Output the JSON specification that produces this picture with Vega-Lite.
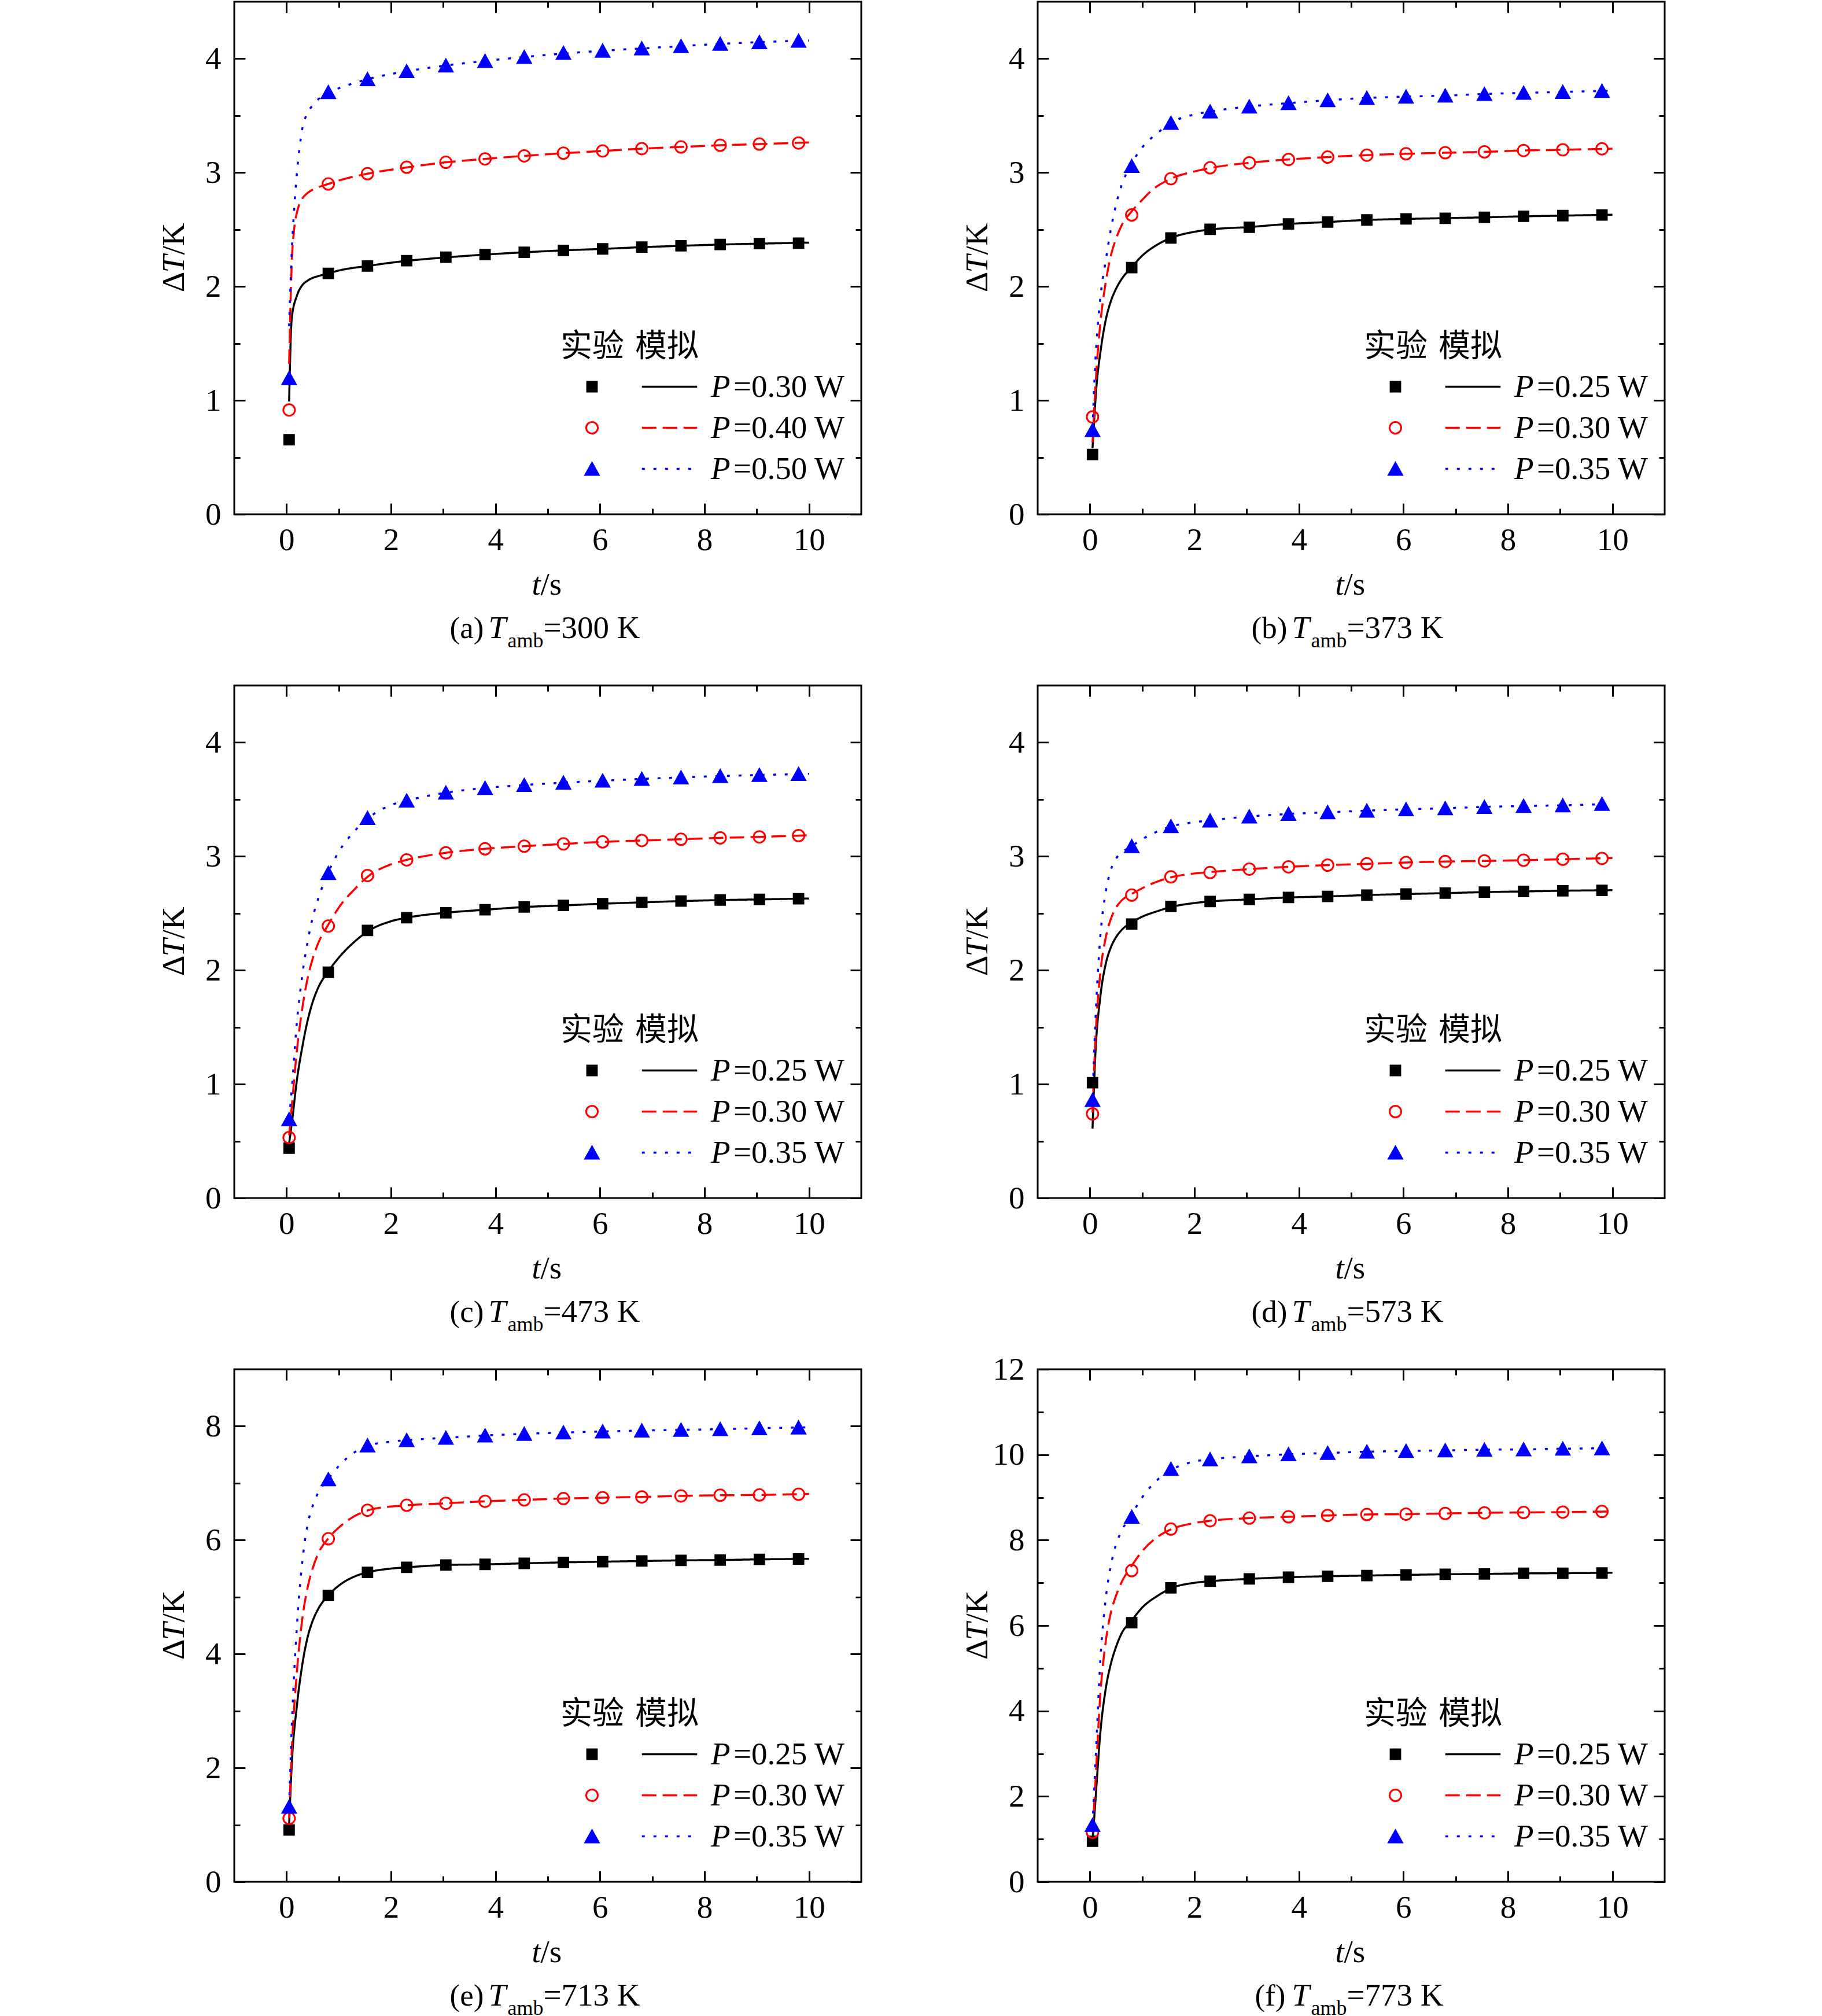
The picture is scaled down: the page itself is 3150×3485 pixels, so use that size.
{
  "$schema": "https://vega.github.io/schema/vega-lite/v6.json",
  "padding": {"left": 271, "top": 0, "right": 0, "bottom": 0},
  "background": "white",
  "config": {
    "view": {"stroke": "black", "strokeWidth": 3},
    "axis": {
      "domain": false, "grid": false, "tickColor": "black", "tickWidth": 3,
      "labelFont": "Liberation Serif", "labelFontSize": 55, "labelColor": "black",
      "labelFlush": false, "labelOverlap": false,
      "titleFont": "Liberation Serif", "titleFontSize": 55, "titleFontWeight": "normal", "titleColor": "black"
    },
    "legend": {
      "orient": "none", "direction": "vertical", "columns": 1, "padding": 0,
      "titleFont": "Noto Sans CJK SC", "titleFontSize": 55, "titleFontWeight": "normal", "titleColor": "black",
      "titleBaseline": "top", "titleAlign": "left", "titlePadding": 13,
      "labelFont": "Liberation Serif", "labelFontSize": 55, "labelColor": "black", "labelBaseline": "middle",
      "labelLimit": 500, "rowPadding": 15
    }
  },
  "datasets": {
    "a_exp": [
      {"t":0.05,"v":0.655,"exp":"0.30 W"},{"t":0.8,"v":2.115,"exp":"0.30 W"},{"t":1.55,"v":2.18,"exp":"0.30 W"},{"t":2.3,"v":2.227,"exp":"0.30 W"},{"t":3.05,"v":2.257,"exp":"0.30 W"},{"t":3.8,"v":2.28,"exp":"0.30 W"},{"t":4.55,"v":2.3,"exp":"0.30 W"},{"t":5.3,"v":2.317,"exp":"0.30 W"},{"t":6.05,"v":2.33,"exp":"0.30 W"},{"t":6.8,"v":2.346,"exp":"0.30 W"},{"t":7.55,"v":2.357,"exp":"0.30 W"},{"t":8.3,"v":2.369,"exp":"0.30 W"},{"t":9.05,"v":2.376,"exp":"0.30 W"},{"t":9.8,"v":2.38,"exp":"0.30 W"},
      {"t":0.05,"v":0.916,"exp":"0.40 W"},{"t":0.8,"v":2.9,"exp":"0.40 W"},{"t":1.55,"v":2.99,"exp":"0.40 W"},{"t":2.3,"v":3.047,"exp":"0.40 W"},{"t":3.05,"v":3.09,"exp":"0.40 W"},{"t":3.8,"v":3.12,"exp":"0.40 W"},{"t":4.55,"v":3.147,"exp":"0.40 W"},{"t":5.3,"v":3.17,"exp":"0.40 W"},{"t":6.05,"v":3.19,"exp":"0.40 W"},{"t":6.8,"v":3.21,"exp":"0.40 W"},{"t":7.55,"v":3.225,"exp":"0.40 W"},{"t":8.3,"v":3.24,"exp":"0.40 W"},{"t":9.05,"v":3.25,"exp":"0.40 W"},{"t":9.8,"v":3.26,"exp":"0.40 W"},
      {"t":0.05,"v":1.195,"exp":"0.50 W"},{"t":0.8,"v":3.706,"exp":"0.50 W"},{"t":1.55,"v":3.82,"exp":"0.50 W"},{"t":2.3,"v":3.89,"exp":"0.50 W"},{"t":3.05,"v":3.94,"exp":"0.50 W"},{"t":3.8,"v":3.98,"exp":"0.50 W"},{"t":4.55,"v":4.015,"exp":"0.50 W"},{"t":5.3,"v":4.05,"exp":"0.50 W"},{"t":6.05,"v":4.07,"exp":"0.50 W"},{"t":6.8,"v":4.09,"exp":"0.50 W"},{"t":7.55,"v":4.11,"exp":"0.50 W"},{"t":8.3,"v":4.13,"exp":"0.50 W"},{"t":9.05,"v":4.145,"exp":"0.50 W"},{"t":9.8,"v":4.157,"exp":"0.50 W"}
    ],
    "a_sim": [
      {"t":0.05,"v":0.99,"sim":"0.30 W"},{"t":0.1,"v":1.72,"sim":"0.30 W"},{"t":0.2,"v":1.92,"sim":"0.30 W"},{"t":0.3,"v":2.01,"sim":"0.30 W"},{"t":0.4,"v":2.05,"sim":"0.30 W"},{"t":0.5,"v":2.075,"sim":"0.30 W"},{"t":0.6,"v":2.09,"sim":"0.30 W"},{"t":0.8,"v":2.115,"sim":"0.30 W"},{"t":1.0,"v":2.14,"sim":"0.30 W"},{"t":1.55,"v":2.18,"sim":"0.30 W"},{"t":2.3,"v":2.225,"sim":"0.30 W"},{"t":3.05,"v":2.255,"sim":"0.30 W"},{"t":3.8,"v":2.28,"sim":"0.30 W"},{"t":4.55,"v":2.3,"sim":"0.30 W"},{"t":5.3,"v":2.317,"sim":"0.30 W"},{"t":6.05,"v":2.33,"sim":"0.30 W"},{"t":6.8,"v":2.345,"sim":"0.30 W"},{"t":7.55,"v":2.357,"sim":"0.30 W"},{"t":8.3,"v":2.368,"sim":"0.30 W"},{"t":9.05,"v":2.376,"sim":"0.30 W"},{"t":10,"v":2.385,"sim":"0.30 W"},
      {"t":0.05,"v":1.32,"sim":"0.40 W"},{"t":0.1,"v":2.2,"sim":"0.40 W"},{"t":0.15,"v":2.52,"sim":"0.40 W"},{"t":0.2,"v":2.65,"sim":"0.40 W"},{"t":0.3,"v":2.77,"sim":"0.40 W"},{"t":0.4,"v":2.82,"sim":"0.40 W"},{"t":0.5,"v":2.85,"sim":"0.40 W"},{"t":0.6,"v":2.87,"sim":"0.40 W"},{"t":0.8,"v":2.9,"sim":"0.40 W"},{"t":1.0,"v":2.93,"sim":"0.40 W"},{"t":1.55,"v":2.99,"sim":"0.40 W"},{"t":2.3,"v":3.045,"sim":"0.40 W"},{"t":3.05,"v":3.09,"sim":"0.40 W"},{"t":3.8,"v":3.12,"sim":"0.40 W"},{"t":4.55,"v":3.147,"sim":"0.40 W"},{"t":5.3,"v":3.17,"sim":"0.40 W"},{"t":6.05,"v":3.19,"sim":"0.40 W"},{"t":6.8,"v":3.21,"sim":"0.40 W"},{"t":7.55,"v":3.225,"sim":"0.40 W"},{"t":8.3,"v":3.24,"sim":"0.40 W"},{"t":9.05,"v":3.25,"sim":"0.40 W"},{"t":10,"v":3.265,"sim":"0.40 W"},
      {"t":0.05,"v":1.65,"sim":"0.50 W"},{"t":0.1,"v":2.3,"sim":"0.50 W"},{"t":0.15,"v":2.7,"sim":"0.50 W"},{"t":0.2,"v":3.0,"sim":"0.50 W"},{"t":0.25,"v":3.22,"sim":"0.50 W"},{"t":0.3,"v":3.38,"sim":"0.50 W"},{"t":0.4,"v":3.52,"sim":"0.50 W"},{"t":0.5,"v":3.59,"sim":"0.50 W"},{"t":0.6,"v":3.64,"sim":"0.50 W"},{"t":0.8,"v":3.705,"sim":"0.50 W"},{"t":1.0,"v":3.74,"sim":"0.50 W"},{"t":1.55,"v":3.82,"sim":"0.50 W"},{"t":2.3,"v":3.89,"sim":"0.50 W"},{"t":3.05,"v":3.94,"sim":"0.50 W"},{"t":3.8,"v":3.98,"sim":"0.50 W"},{"t":4.55,"v":4.015,"sim":"0.50 W"},{"t":5.3,"v":4.045,"sim":"0.50 W"},{"t":6.05,"v":4.07,"sim":"0.50 W"},{"t":6.8,"v":4.09,"sim":"0.50 W"},{"t":7.55,"v":4.11,"sim":"0.50 W"},{"t":8.3,"v":4.13,"sim":"0.50 W"},{"t":9.05,"v":4.145,"sim":"0.50 W"},{"t":10,"v":4.16,"sim":"0.50 W"}
    ],
    "b_exp": [
      {"t":0.05,"v":0.525,"exp":"0.25 W"},{"t":0.8,"v":2.166,"exp":"0.25 W"},{"t":1.55,"v":2.426,"exp":"0.25 W"},{"t":2.3,"v":2.502,"exp":"0.25 W"},{"t":3.05,"v":2.52,"exp":"0.25 W"},{"t":3.8,"v":2.549,"exp":"0.25 W"},{"t":4.55,"v":2.566,"exp":"0.25 W"},{"t":5.3,"v":2.584,"exp":"0.25 W"},{"t":6.05,"v":2.593,"exp":"0.25 W"},{"t":6.8,"v":2.599,"exp":"0.25 W"},{"t":7.55,"v":2.607,"exp":"0.25 W"},{"t":8.3,"v":2.616,"exp":"0.25 W"},{"t":9.05,"v":2.622,"exp":"0.25 W"},{"t":9.8,"v":2.628,"exp":"0.25 W"},
      {"t":0.05,"v":0.855,"exp":"0.30 W"},{"t":0.8,"v":2.628,"exp":"0.30 W"},{"t":1.55,"v":2.946,"exp":"0.30 W"},{"t":2.3,"v":3.042,"exp":"0.30 W"},{"t":3.05,"v":3.086,"exp":"0.30 W"},{"t":3.8,"v":3.115,"exp":"0.30 W"},{"t":4.55,"v":3.136,"exp":"0.30 W"},{"t":5.3,"v":3.153,"exp":"0.30 W"},{"t":6.05,"v":3.165,"exp":"0.30 W"},{"t":6.8,"v":3.174,"exp":"0.30 W"},{"t":7.55,"v":3.182,"exp":"0.30 W"},{"t":8.3,"v":3.194,"exp":"0.30 W"},{"t":9.05,"v":3.2,"exp":"0.30 W"},{"t":9.8,"v":3.209,"exp":"0.30 W"},
      {"t":0.05,"v":0.739,"exp":"0.35 W"},{"t":0.8,"v":3.057,"exp":"0.35 W"},{"t":1.55,"v":3.436,"exp":"0.35 W"},{"t":2.3,"v":3.536,"exp":"0.35 W"},{"t":3.05,"v":3.58,"exp":"0.35 W"},{"t":3.8,"v":3.61,"exp":"0.35 W"},{"t":4.55,"v":3.635,"exp":"0.35 W"},{"t":5.3,"v":3.655,"exp":"0.35 W"},{"t":6.05,"v":3.667,"exp":"0.35 W"},{"t":6.8,"v":3.676,"exp":"0.35 W"},{"t":7.55,"v":3.69,"exp":"0.35 W"},{"t":8.3,"v":3.7,"exp":"0.35 W"},{"t":9.05,"v":3.708,"exp":"0.35 W"},{"t":9.8,"v":3.717,"exp":"0.35 W"}
    ],
    "b_sim": [
      {"t":0.05,"v":0.58,"sim":"0.25 W"},{"t":0.13,"v":1.15,"sim":"0.25 W"},{"t":0.2,"v":1.42,"sim":"0.25 W"},{"t":0.3,"v":1.7,"sim":"0.25 W"},{"t":0.4,"v":1.87,"sim":"0.25 W"},{"t":0.5,"v":1.98,"sim":"0.25 W"},{"t":0.6,"v":2.06,"sim":"0.25 W"},{"t":0.8,"v":2.17,"sim":"0.25 W"},{"t":1.0,"v":2.27,"sim":"0.25 W"},{"t":1.3,"v":2.37,"sim":"0.25 W"},{"t":1.55,"v":2.426,"sim":"0.25 W"},{"t":2.0,"v":2.48,"sim":"0.25 W"},{"t":2.3,"v":2.5,"sim":"0.25 W"},{"t":3.05,"v":2.522,"sim":"0.25 W"},{"t":3.8,"v":2.549,"sim":"0.25 W"},{"t":4.55,"v":2.566,"sim":"0.25 W"},{"t":5.3,"v":2.584,"sim":"0.25 W"},{"t":6.05,"v":2.593,"sim":"0.25 W"},{"t":6.8,"v":2.6,"sim":"0.25 W"},{"t":7.55,"v":2.607,"sim":"0.25 W"},{"t":8.3,"v":2.616,"sim":"0.25 W"},{"t":9.05,"v":2.622,"sim":"0.25 W"},{"t":10,"v":2.63,"sim":"0.25 W"},
      {"t":0.05,"v":0.63,"sim":"0.30 W"},{"t":0.13,"v":1.3,"sim":"0.30 W"},{"t":0.2,"v":1.68,"sim":"0.30 W"},{"t":0.3,"v":2.03,"sim":"0.30 W"},{"t":0.4,"v":2.27,"sim":"0.30 W"},{"t":0.5,"v":2.42,"sim":"0.30 W"},{"t":0.6,"v":2.53,"sim":"0.30 W"},{"t":0.8,"v":2.66,"sim":"0.30 W"},{"t":1.0,"v":2.76,"sim":"0.30 W"},{"t":1.2,"v":2.85,"sim":"0.30 W"},{"t":1.55,"v":2.946,"sim":"0.30 W"},{"t":2.0,"v":3.01,"sim":"0.30 W"},{"t":2.3,"v":3.04,"sim":"0.30 W"},{"t":3.05,"v":3.086,"sim":"0.30 W"},{"t":3.8,"v":3.115,"sim":"0.30 W"},{"t":4.55,"v":3.136,"sim":"0.30 W"},{"t":5.3,"v":3.153,"sim":"0.30 W"},{"t":6.05,"v":3.165,"sim":"0.30 W"},{"t":6.8,"v":3.174,"sim":"0.30 W"},{"t":7.55,"v":3.182,"sim":"0.30 W"},{"t":8.3,"v":3.194,"sim":"0.30 W"},{"t":9.05,"v":3.2,"sim":"0.30 W"},{"t":10,"v":3.21,"sim":"0.30 W"},
      {"t":0.05,"v":0.75,"sim":"0.35 W"},{"t":0.1,"v":1.3,"sim":"0.35 W"},{"t":0.2,"v":1.9,"sim":"0.35 W"},{"t":0.3,"v":2.22,"sim":"0.35 W"},{"t":0.4,"v":2.5,"sim":"0.35 W"},{"t":0.5,"v":2.72,"sim":"0.35 W"},{"t":0.6,"v":2.88,"sim":"0.35 W"},{"t":0.8,"v":3.08,"sim":"0.35 W"},{"t":1.0,"v":3.22,"sim":"0.35 W"},{"t":1.3,"v":3.35,"sim":"0.35 W"},{"t":1.55,"v":3.436,"sim":"0.35 W"},{"t":2.0,"v":3.51,"sim":"0.35 W"},{"t":2.3,"v":3.536,"sim":"0.35 W"},{"t":3.05,"v":3.58,"sim":"0.35 W"},{"t":3.8,"v":3.61,"sim":"0.35 W"},{"t":4.55,"v":3.635,"sim":"0.35 W"},{"t":5.3,"v":3.655,"sim":"0.35 W"},{"t":6.05,"v":3.667,"sim":"0.35 W"},{"t":6.8,"v":3.676,"sim":"0.35 W"},{"t":7.55,"v":3.69,"sim":"0.35 W"},{"t":8.3,"v":3.7,"sim":"0.35 W"},{"t":9.05,"v":3.708,"sim":"0.35 W"},{"t":10,"v":3.72,"sim":"0.35 W"}
    ],
    "c_exp": [
      {"t":0.05,"v":0.438,"exp":"0.25 W"},{"t":0.8,"v":1.982,"exp":"0.25 W"},{"t":1.55,"v":2.35,"exp":"0.25 W"},{"t":2.3,"v":2.461,"exp":"0.25 W"},{"t":3.05,"v":2.505,"exp":"0.25 W"},{"t":3.8,"v":2.531,"exp":"0.25 W"},{"t":4.55,"v":2.555,"exp":"0.25 W"},{"t":5.3,"v":2.569,"exp":"0.25 W"},{"t":6.05,"v":2.584,"exp":"0.25 W"},{"t":6.8,"v":2.596,"exp":"0.25 W"},{"t":7.55,"v":2.607,"exp":"0.25 W"},{"t":8.3,"v":2.616,"exp":"0.25 W"},{"t":9.05,"v":2.622,"exp":"0.25 W"},{"t":9.8,"v":2.628,"exp":"0.25 W"},
      {"t":0.05,"v":0.531,"exp":"0.30 W"},{"t":0.8,"v":2.388,"exp":"0.30 W"},{"t":1.55,"v":2.832,"exp":"0.30 W"},{"t":2.3,"v":2.969,"exp":"0.30 W"},{"t":3.05,"v":3.031,"exp":"0.30 W"},{"t":3.8,"v":3.066,"exp":"0.30 W"},{"t":4.55,"v":3.089,"exp":"0.30 W"},{"t":5.3,"v":3.109,"exp":"0.30 W"},{"t":6.05,"v":3.127,"exp":"0.30 W"},{"t":6.8,"v":3.139,"exp":"0.30 W"},{"t":7.55,"v":3.15,"exp":"0.30 W"},{"t":8.3,"v":3.162,"exp":"0.30 W"},{"t":9.05,"v":3.171,"exp":"0.30 W"},{"t":9.8,"v":3.182,"exp":"0.30 W"},
      {"t":0.05,"v":0.692,"exp":"0.35 W"},{"t":0.8,"v":2.853,"exp":"0.35 W"},{"t":1.55,"v":3.337,"exp":"0.35 W"},{"t":2.3,"v":3.489,"exp":"0.35 W"},{"t":3.05,"v":3.559,"exp":"0.35 W"},{"t":3.8,"v":3.6,"exp":"0.35 W"},{"t":4.55,"v":3.626,"exp":"0.35 W"},{"t":5.3,"v":3.647,"exp":"0.35 W"},{"t":6.05,"v":3.664,"exp":"0.35 W"},{"t":6.8,"v":3.68,"exp":"0.35 W"},{"t":7.55,"v":3.693,"exp":"0.35 W"},{"t":8.3,"v":3.705,"exp":"0.35 W"},{"t":9.05,"v":3.714,"exp":"0.35 W"},{"t":9.8,"v":3.723,"exp":"0.35 W"}
    ],
    "c_sim": [
      {"t":0.05,"v":0.48,"sim":"0.25 W"},{"t":0.1,"v":0.65,"sim":"0.25 W"},{"t":0.2,"v":1.04,"sim":"0.25 W"},{"t":0.3,"v":1.32,"sim":"0.25 W"},{"t":0.4,"v":1.55,"sim":"0.25 W"},{"t":0.5,"v":1.72,"sim":"0.25 W"},{"t":0.6,"v":1.84,"sim":"0.25 W"},{"t":0.8,"v":1.99,"sim":"0.25 W"},{"t":1.0,"v":2.11,"sim":"0.25 W"},{"t":1.3,"v":2.25,"sim":"0.25 W"},{"t":1.55,"v":2.34,"sim":"0.25 W"},{"t":2.0,"v":2.43,"sim":"0.25 W"},{"t":2.3,"v":2.461,"sim":"0.25 W"},{"t":3.05,"v":2.505,"sim":"0.25 W"},{"t":3.8,"v":2.531,"sim":"0.25 W"},{"t":4.55,"v":2.555,"sim":"0.25 W"},{"t":5.3,"v":2.569,"sim":"0.25 W"},{"t":6.05,"v":2.584,"sim":"0.25 W"},{"t":6.8,"v":2.596,"sim":"0.25 W"},{"t":7.55,"v":2.607,"sim":"0.25 W"},{"t":8.3,"v":2.616,"sim":"0.25 W"},{"t":9.05,"v":2.622,"sim":"0.25 W"},{"t":10,"v":2.63,"sim":"0.25 W"},
      {"t":0.05,"v":0.55,"sim":"0.30 W"},{"t":0.1,"v":0.8,"sim":"0.30 W"},{"t":0.2,"v":1.3,"sim":"0.30 W"},{"t":0.3,"v":1.66,"sim":"0.30 W"},{"t":0.4,"v":1.92,"sim":"0.30 W"},{"t":0.5,"v":2.1,"sim":"0.30 W"},{"t":0.6,"v":2.23,"sim":"0.30 W"},{"t":0.8,"v":2.4,"sim":"0.30 W"},{"t":1.0,"v":2.55,"sim":"0.30 W"},{"t":1.3,"v":2.71,"sim":"0.30 W"},{"t":1.55,"v":2.82,"sim":"0.30 W"},{"t":2.0,"v":2.93,"sim":"0.30 W"},{"t":2.3,"v":2.969,"sim":"0.30 W"},{"t":3.05,"v":3.031,"sim":"0.30 W"},{"t":3.8,"v":3.066,"sim":"0.30 W"},{"t":4.55,"v":3.089,"sim":"0.30 W"},{"t":5.3,"v":3.109,"sim":"0.30 W"},{"t":6.05,"v":3.127,"sim":"0.30 W"},{"t":6.8,"v":3.139,"sim":"0.30 W"},{"t":7.55,"v":3.15,"sim":"0.30 W"},{"t":8.3,"v":3.162,"sim":"0.30 W"},{"t":9.05,"v":3.171,"sim":"0.30 W"},{"t":10,"v":3.185,"sim":"0.30 W"},
      {"t":0.05,"v":0.7,"sim":"0.35 W"},{"t":0.1,"v":0.95,"sim":"0.35 W"},{"t":0.2,"v":1.55,"sim":"0.35 W"},{"t":0.3,"v":1.95,"sim":"0.35 W"},{"t":0.4,"v":2.24,"sim":"0.35 W"},{"t":0.5,"v":2.46,"sim":"0.35 W"},{"t":0.6,"v":2.62,"sim":"0.35 W"},{"t":0.8,"v":2.86,"sim":"0.35 W"},{"t":1.0,"v":3.04,"sim":"0.35 W"},{"t":1.3,"v":3.22,"sim":"0.35 W"},{"t":1.55,"v":3.33,"sim":"0.35 W"},{"t":2.0,"v":3.45,"sim":"0.35 W"},{"t":2.3,"v":3.489,"sim":"0.35 W"},{"t":3.05,"v":3.559,"sim":"0.35 W"},{"t":3.8,"v":3.6,"sim":"0.35 W"},{"t":4.55,"v":3.626,"sim":"0.35 W"},{"t":5.3,"v":3.647,"sim":"0.35 W"},{"t":6.05,"v":3.664,"sim":"0.35 W"},{"t":6.8,"v":3.68,"sim":"0.35 W"},{"t":7.55,"v":3.693,"sim":"0.35 W"},{"t":8.3,"v":3.705,"sim":"0.35 W"},{"t":9.05,"v":3.714,"sim":"0.35 W"},{"t":10,"v":3.725,"sim":"0.35 W"}
    ],
    "d_exp": [
      {"t":0.05,"v":1.013,"exp":"0.25 W"},{"t":0.8,"v":2.406,"exp":"0.25 W"},{"t":1.55,"v":2.56,"exp":"0.25 W"},{"t":2.3,"v":2.604,"exp":"0.25 W"},{"t":3.05,"v":2.622,"exp":"0.25 W"},{"t":3.8,"v":2.639,"exp":"0.25 W"},{"t":4.55,"v":2.648,"exp":"0.25 W"},{"t":5.3,"v":2.66,"exp":"0.25 W"},{"t":6.05,"v":2.669,"exp":"0.25 W"},{"t":6.8,"v":2.677,"exp":"0.25 W"},{"t":7.55,"v":2.686,"exp":"0.25 W"},{"t":8.3,"v":2.692,"exp":"0.25 W"},{"t":9.05,"v":2.698,"exp":"0.25 W"},{"t":9.8,"v":2.701,"exp":"0.25 W"},
      {"t":0.05,"v":0.739,"exp":"0.30 W"},{"t":0.8,"v":2.66,"exp":"0.30 W"},{"t":1.55,"v":2.82,"exp":"0.30 W"},{"t":2.3,"v":2.858,"exp":"0.30 W"},{"t":3.05,"v":2.888,"exp":"0.30 W"},{"t":3.8,"v":2.908,"exp":"0.30 W"},{"t":4.55,"v":2.923,"exp":"0.30 W"},{"t":5.3,"v":2.934,"exp":"0.30 W"},{"t":6.05,"v":2.946,"exp":"0.30 W"},{"t":6.8,"v":2.955,"exp":"0.30 W"},{"t":7.55,"v":2.96,"exp":"0.30 W"},{"t":8.3,"v":2.966,"exp":"0.30 W"},{"t":9.05,"v":2.975,"exp":"0.30 W"},{"t":9.8,"v":2.982,"exp":"0.30 W"},
      {"t":0.05,"v":0.861,"exp":"0.35 W"},{"t":0.8,"v":3.089,"exp":"0.35 W"},{"t":1.55,"v":3.264,"exp":"0.35 W"},{"t":2.3,"v":3.314,"exp":"0.35 W"},{"t":3.05,"v":3.35,"exp":"0.35 W"},{"t":3.8,"v":3.372,"exp":"0.35 W"},{"t":4.55,"v":3.387,"exp":"0.35 W"},{"t":5.3,"v":3.401,"exp":"0.35 W"},{"t":6.05,"v":3.413,"exp":"0.35 W"},{"t":6.8,"v":3.422,"exp":"0.35 W"},{"t":7.55,"v":3.434,"exp":"0.35 W"},{"t":8.3,"v":3.442,"exp":"0.35 W"},{"t":9.05,"v":3.448,"exp":"0.35 W"},{"t":9.8,"v":3.46,"exp":"0.35 W"}
    ],
    "d_sim": [
      {"t":0.05,"v":0.61,"sim":"0.25 W"},{"t":0.1,"v":1.22,"sim":"0.25 W"},{"t":0.2,"v":1.77,"sim":"0.25 W"},{"t":0.3,"v":2.05,"sim":"0.25 W"},{"t":0.4,"v":2.2,"sim":"0.25 W"},{"t":0.5,"v":2.29,"sim":"0.25 W"},{"t":0.6,"v":2.35,"sim":"0.25 W"},{"t":0.8,"v":2.42,"sim":"0.25 W"},{"t":1.0,"v":2.47,"sim":"0.25 W"},{"t":1.3,"v":2.52,"sim":"0.25 W"},{"t":1.55,"v":2.555,"sim":"0.25 W"},{"t":2.0,"v":2.59,"sim":"0.25 W"},{"t":2.3,"v":2.604,"sim":"0.25 W"},{"t":3.05,"v":2.622,"sim":"0.25 W"},{"t":3.8,"v":2.639,"sim":"0.25 W"},{"t":4.55,"v":2.648,"sim":"0.25 W"},{"t":5.3,"v":2.66,"sim":"0.25 W"},{"t":6.05,"v":2.669,"sim":"0.25 W"},{"t":6.8,"v":2.677,"sim":"0.25 W"},{"t":7.55,"v":2.686,"sim":"0.25 W"},{"t":8.3,"v":2.692,"sim":"0.25 W"},{"t":9.05,"v":2.698,"sim":"0.25 W"},{"t":10,"v":2.703,"sim":"0.25 W"},
      {"t":0.05,"v":0.75,"sim":"0.30 W"},{"t":0.1,"v":1.35,"sim":"0.30 W"},{"t":0.2,"v":1.98,"sim":"0.30 W"},{"t":0.3,"v":2.28,"sim":"0.30 W"},{"t":0.4,"v":2.45,"sim":"0.30 W"},{"t":0.5,"v":2.55,"sim":"0.30 W"},{"t":0.6,"v":2.61,"sim":"0.30 W"},{"t":0.8,"v":2.67,"sim":"0.30 W"},{"t":1.0,"v":2.72,"sim":"0.30 W"},{"t":1.3,"v":2.78,"sim":"0.30 W"},{"t":1.55,"v":2.815,"sim":"0.30 W"},{"t":2.0,"v":2.85,"sim":"0.30 W"},{"t":2.3,"v":2.862,"sim":"0.30 W"},{"t":3.05,"v":2.888,"sim":"0.30 W"},{"t":3.8,"v":2.908,"sim":"0.30 W"},{"t":4.55,"v":2.923,"sim":"0.30 W"},{"t":5.3,"v":2.934,"sim":"0.30 W"},{"t":6.05,"v":2.946,"sim":"0.30 W"},{"t":6.8,"v":2.955,"sim":"0.30 W"},{"t":7.55,"v":2.96,"sim":"0.30 W"},{"t":8.3,"v":2.966,"sim":"0.30 W"},{"t":9.05,"v":2.975,"sim":"0.30 W"},{"t":10,"v":2.985,"sim":"0.30 W"},
      {"t":0.05,"v":0.87,"sim":"0.35 W"},{"t":0.1,"v":1.5,"sim":"0.35 W"},{"t":0.2,"v":2.3,"sim":"0.35 W"},{"t":0.3,"v":2.68,"sim":"0.35 W"},{"t":0.4,"v":2.88,"sim":"0.35 W"},{"t":0.5,"v":2.98,"sim":"0.35 W"},{"t":0.6,"v":3.03,"sim":"0.35 W"},{"t":0.8,"v":3.09,"sim":"0.35 W"},{"t":1.0,"v":3.15,"sim":"0.35 W"},{"t":1.3,"v":3.22,"sim":"0.35 W"},{"t":1.55,"v":3.262,"sim":"0.35 W"},{"t":2.0,"v":3.3,"sim":"0.35 W"},{"t":2.3,"v":3.316,"sim":"0.35 W"},{"t":3.05,"v":3.35,"sim":"0.35 W"},{"t":3.8,"v":3.372,"sim":"0.35 W"},{"t":4.55,"v":3.387,"sim":"0.35 W"},{"t":5.3,"v":3.401,"sim":"0.35 W"},{"t":6.05,"v":3.413,"sim":"0.35 W"},{"t":6.8,"v":3.422,"sim":"0.35 W"},{"t":7.55,"v":3.434,"sim":"0.35 W"},{"t":8.3,"v":3.442,"sim":"0.35 W"},{"t":9.05,"v":3.448,"sim":"0.35 W"},{"t":10,"v":3.46,"sim":"0.35 W"}
    ],
    "e_exp": [
      {"t":0.05,"v":0.91,"exp":"0.25 W"},{"t":0.8,"v":5.026,"exp":"0.25 W"},{"t":1.55,"v":5.434,"exp":"0.25 W"},{"t":2.3,"v":5.522,"exp":"0.25 W"},{"t":3.05,"v":5.563,"exp":"0.25 W"},{"t":3.8,"v":5.574,"exp":"0.25 W"},{"t":4.55,"v":5.592,"exp":"0.25 W"},{"t":5.3,"v":5.609,"exp":"0.25 W"},{"t":6.05,"v":5.621,"exp":"0.25 W"},{"t":6.8,"v":5.633,"exp":"0.25 W"},{"t":7.55,"v":5.644,"exp":"0.25 W"},{"t":8.3,"v":5.65,"exp":"0.25 W"},{"t":9.05,"v":5.662,"exp":"0.25 W"},{"t":9.8,"v":5.668,"exp":"0.25 W"},
      {"t":0.05,"v":1.114,"exp":"0.30 W"},{"t":0.8,"v":6.023,"exp":"0.30 W"},{"t":1.55,"v":6.525,"exp":"0.30 W"},{"t":2.3,"v":6.612,"exp":"0.30 W"},{"t":3.05,"v":6.647,"exp":"0.30 W"},{"t":3.8,"v":6.682,"exp":"0.30 W"},{"t":4.55,"v":6.706,"exp":"0.30 W"},{"t":5.3,"v":6.729,"exp":"0.30 W"},{"t":6.05,"v":6.746,"exp":"0.30 W"},{"t":6.8,"v":6.758,"exp":"0.30 W"},{"t":7.55,"v":6.776,"exp":"0.30 W"},{"t":8.3,"v":6.787,"exp":"0.30 W"},{"t":9.05,"v":6.793,"exp":"0.30 W"},{"t":9.8,"v":6.805,"exp":"0.30 W"},
      {"t":0.05,"v":1.318,"exp":"0.35 W"},{"t":0.8,"v":7.067,"exp":"0.35 W"},{"t":1.55,"v":7.662,"exp":"0.35 W"},{"t":2.3,"v":7.755,"exp":"0.35 W"},{"t":3.05,"v":7.796,"exp":"0.35 W"},{"t":3.8,"v":7.837,"exp":"0.35 W"},{"t":4.55,"v":7.866,"exp":"0.35 W"},{"t":5.3,"v":7.889,"exp":"0.35 W"},{"t":6.05,"v":7.907,"exp":"0.35 W"},{"t":6.8,"v":7.924,"exp":"0.35 W"},{"t":7.55,"v":7.936,"exp":"0.35 W"},{"t":8.3,"v":7.948,"exp":"0.35 W"},{"t":9.05,"v":7.965,"exp":"0.35 W"},{"t":9.8,"v":7.977,"exp":"0.35 W"}
    ],
    "e_sim": [
      {"t":0.05,"v":1.0,"sim":"0.25 W"},{"t":0.1,"v":2.05,"sim":"0.25 W"},{"t":0.2,"v":3.1,"sim":"0.25 W"},{"t":0.3,"v":3.8,"sim":"0.25 W"},{"t":0.4,"v":4.28,"sim":"0.25 W"},{"t":0.5,"v":4.58,"sim":"0.25 W"},{"t":0.6,"v":4.78,"sim":"0.25 W"},{"t":0.8,"v":5.03,"sim":"0.25 W"},{"t":1.0,"v":5.2,"sim":"0.25 W"},{"t":1.3,"v":5.36,"sim":"0.25 W"},{"t":1.55,"v":5.434,"sim":"0.25 W"},{"t":2.0,"v":5.5,"sim":"0.25 W"},{"t":2.3,"v":5.522,"sim":"0.25 W"},{"t":3.05,"v":5.563,"sim":"0.25 W"},{"t":3.8,"v":5.574,"sim":"0.25 W"},{"t":4.55,"v":5.592,"sim":"0.25 W"},{"t":5.3,"v":5.609,"sim":"0.25 W"},{"t":6.05,"v":5.621,"sim":"0.25 W"},{"t":6.8,"v":5.633,"sim":"0.25 W"},{"t":7.55,"v":5.644,"sim":"0.25 W"},{"t":8.3,"v":5.65,"sim":"0.25 W"},{"t":9.05,"v":5.662,"sim":"0.25 W"},{"t":10,"v":5.67,"sim":"0.25 W"},
      {"t":0.05,"v":1.12,"sim":"0.30 W"},{"t":0.1,"v":2.3,"sim":"0.30 W"},{"t":0.2,"v":3.7,"sim":"0.30 W"},{"t":0.3,"v":4.6,"sim":"0.30 W"},{"t":0.4,"v":5.15,"sim":"0.30 W"},{"t":0.5,"v":5.5,"sim":"0.30 W"},{"t":0.6,"v":5.75,"sim":"0.30 W"},{"t":0.8,"v":6.03,"sim":"0.30 W"},{"t":1.0,"v":6.22,"sim":"0.30 W"},{"t":1.3,"v":6.42,"sim":"0.30 W"},{"t":1.55,"v":6.52,"sim":"0.30 W"},{"t":2.0,"v":6.59,"sim":"0.30 W"},{"t":2.3,"v":6.612,"sim":"0.30 W"},{"t":3.05,"v":6.647,"sim":"0.30 W"},{"t":3.8,"v":6.682,"sim":"0.30 W"},{"t":4.55,"v":6.706,"sim":"0.30 W"},{"t":5.3,"v":6.729,"sim":"0.30 W"},{"t":6.05,"v":6.746,"sim":"0.30 W"},{"t":6.8,"v":6.758,"sim":"0.30 W"},{"t":7.55,"v":6.776,"sim":"0.30 W"},{"t":8.3,"v":6.787,"sim":"0.30 W"},{"t":9.05,"v":6.793,"sim":"0.30 W"},{"t":10,"v":6.81,"sim":"0.30 W"},
      {"t":0.05,"v":1.32,"sim":"0.35 W"},{"t":0.1,"v":2.7,"sim":"0.35 W"},{"t":0.2,"v":4.5,"sim":"0.35 W"},{"t":0.3,"v":5.6,"sim":"0.35 W"},{"t":0.4,"v":6.25,"sim":"0.35 W"},{"t":0.5,"v":6.6,"sim":"0.35 W"},{"t":0.6,"v":6.82,"sim":"0.35 W"},{"t":0.8,"v":7.07,"sim":"0.35 W"},{"t":1.0,"v":7.3,"sim":"0.35 W"},{"t":1.3,"v":7.54,"sim":"0.35 W"},{"t":1.55,"v":7.655,"sim":"0.35 W"},{"t":2.0,"v":7.73,"sim":"0.35 W"},{"t":2.3,"v":7.755,"sim":"0.35 W"},{"t":3.05,"v":7.796,"sim":"0.35 W"},{"t":3.8,"v":7.837,"sim":"0.35 W"},{"t":4.55,"v":7.866,"sim":"0.35 W"},{"t":5.3,"v":7.889,"sim":"0.35 W"},{"t":6.05,"v":7.907,"sim":"0.35 W"},{"t":6.8,"v":7.924,"sim":"0.35 W"},{"t":7.55,"v":7.936,"sim":"0.35 W"},{"t":8.3,"v":7.948,"sim":"0.35 W"},{"t":9.05,"v":7.965,"sim":"0.35 W"},{"t":10,"v":7.98,"sim":"0.35 W"}
    ],
    "f_exp": [
      {"t":0.05,"v":0.949,"exp":"0.25 W"},{"t":0.8,"v":6.065,"exp":"0.25 W"},{"t":1.55,"v":6.882,"exp":"0.25 W"},{"t":2.3,"v":7.037,"exp":"0.25 W"},{"t":3.05,"v":7.092,"exp":"0.25 W"},{"t":3.8,"v":7.131,"exp":"0.25 W"},{"t":4.55,"v":7.154,"exp":"0.25 W"},{"t":5.3,"v":7.17,"exp":"0.25 W"},{"t":6.05,"v":7.185,"exp":"0.25 W"},{"t":6.8,"v":7.2,"exp":"0.25 W"},{"t":7.55,"v":7.208,"exp":"0.25 W"},{"t":8.3,"v":7.224,"exp":"0.25 W"},{"t":9.05,"v":7.224,"exp":"0.25 W"},{"t":9.8,"v":7.232,"exp":"0.25 W"},
      {"t":0.05,"v":1.159,"exp":"0.30 W"},{"t":0.8,"v":7.286,"exp":"0.30 W"},{"t":1.55,"v":8.258,"exp":"0.30 W"},{"t":2.3,"v":8.453,"exp":"0.30 W"},{"t":3.05,"v":8.515,"exp":"0.30 W"},{"t":3.8,"v":8.546,"exp":"0.30 W"},{"t":4.55,"v":8.577,"exp":"0.30 W"},{"t":5.3,"v":8.6,"exp":"0.30 W"},{"t":6.05,"v":8.608,"exp":"0.30 W"},{"t":6.8,"v":8.624,"exp":"0.30 W"},{"t":7.55,"v":8.639,"exp":"0.30 W"},{"t":8.3,"v":8.647,"exp":"0.30 W"},{"t":9.05,"v":8.655,"exp":"0.30 W"},{"t":9.8,"v":8.67,"exp":"0.30 W"},
      {"t":0.05,"v":1.33,"exp":"0.35 W"},{"t":0.8,"v":8.546,"exp":"0.35 W"},{"t":1.55,"v":9.666,"exp":"0.35 W"},{"t":2.3,"v":9.891,"exp":"0.35 W"},{"t":3.05,"v":9.961,"exp":"0.35 W"},{"t":3.8,"v":10.008,"exp":"0.35 W"},{"t":4.55,"v":10.039,"exp":"0.35 W"},{"t":5.3,"v":10.07,"exp":"0.35 W"},{"t":6.05,"v":10.086,"exp":"0.35 W"},{"t":6.8,"v":10.101,"exp":"0.35 W"},{"t":7.55,"v":10.117,"exp":"0.35 W"},{"t":8.3,"v":10.124,"exp":"0.35 W"},{"t":9.05,"v":10.14,"exp":"0.35 W"},{"t":9.8,"v":10.148,"exp":"0.35 W"}
    ],
    "f_sim": [
      {"t":0.05,"v":0.95,"sim":"0.25 W"},{"t":0.1,"v":1.8,"sim":"0.25 W"},{"t":0.2,"v":3.5,"sim":"0.25 W"},{"t":0.3,"v":4.5,"sim":"0.25 W"},{"t":0.4,"v":5.1,"sim":"0.25 W"},{"t":0.5,"v":5.5,"sim":"0.25 W"},{"t":0.6,"v":5.8,"sim":"0.25 W"},{"t":0.8,"v":6.12,"sim":"0.25 W"},{"t":1.0,"v":6.42,"sim":"0.25 W"},{"t":1.3,"v":6.7,"sim":"0.25 W"},{"t":1.55,"v":6.87,"sim":"0.25 W"},{"t":2.0,"v":7.0,"sim":"0.25 W"},{"t":2.3,"v":7.037,"sim":"0.25 W"},{"t":3.05,"v":7.092,"sim":"0.25 W"},{"t":3.8,"v":7.131,"sim":"0.25 W"},{"t":4.55,"v":7.154,"sim":"0.25 W"},{"t":5.3,"v":7.17,"sim":"0.25 W"},{"t":6.05,"v":7.185,"sim":"0.25 W"},{"t":6.8,"v":7.2,"sim":"0.25 W"},{"t":7.55,"v":7.208,"sim":"0.25 W"},{"t":8.3,"v":7.22,"sim":"0.25 W"},{"t":9.05,"v":7.226,"sim":"0.25 W"},{"t":10,"v":7.235,"sim":"0.25 W"},
      {"t":0.05,"v":1.16,"sim":"0.30 W"},{"t":0.1,"v":2.2,"sim":"0.30 W"},{"t":0.2,"v":4.4,"sim":"0.30 W"},{"t":0.3,"v":5.6,"sim":"0.30 W"},{"t":0.4,"v":6.3,"sim":"0.30 W"},{"t":0.5,"v":6.7,"sim":"0.30 W"},{"t":0.6,"v":7.0,"sim":"0.30 W"},{"t":0.8,"v":7.4,"sim":"0.30 W"},{"t":1.0,"v":7.74,"sim":"0.30 W"},{"t":1.3,"v":8.08,"sim":"0.30 W"},{"t":1.55,"v":8.25,"sim":"0.30 W"},{"t":2.0,"v":8.4,"sim":"0.30 W"},{"t":2.3,"v":8.453,"sim":"0.30 W"},{"t":3.05,"v":8.515,"sim":"0.30 W"},{"t":3.8,"v":8.546,"sim":"0.30 W"},{"t":4.55,"v":8.577,"sim":"0.30 W"},{"t":5.3,"v":8.6,"sim":"0.30 W"},{"t":6.05,"v":8.608,"sim":"0.30 W"},{"t":6.8,"v":8.624,"sim":"0.30 W"},{"t":7.55,"v":8.639,"sim":"0.30 W"},{"t":8.3,"v":8.647,"sim":"0.30 W"},{"t":9.05,"v":8.655,"sim":"0.30 W"},{"t":10,"v":8.67,"sim":"0.30 W"},
      {"t":0.05,"v":1.33,"sim":"0.35 W"},{"t":0.1,"v":2.6,"sim":"0.35 W"},{"t":0.2,"v":5.2,"sim":"0.35 W"},{"t":0.3,"v":6.6,"sim":"0.35 W"},{"t":0.4,"v":7.4,"sim":"0.35 W"},{"t":0.5,"v":7.9,"sim":"0.35 W"},{"t":0.6,"v":8.2,"sim":"0.35 W"},{"t":0.8,"v":8.6,"sim":"0.35 W"},{"t":1.0,"v":9.0,"sim":"0.35 W"},{"t":1.3,"v":9.42,"sim":"0.35 W"},{"t":1.55,"v":9.64,"sim":"0.35 W"},{"t":2.0,"v":9.84,"sim":"0.35 W"},{"t":2.3,"v":9.891,"sim":"0.35 W"},{"t":3.05,"v":9.961,"sim":"0.35 W"},{"t":3.8,"v":10.008,"sim":"0.35 W"},{"t":4.55,"v":10.039,"sim":"0.35 W"},{"t":5.3,"v":10.07,"sim":"0.35 W"},{"t":6.05,"v":10.086,"sim":"0.35 W"},{"t":6.8,"v":10.101,"sim":"0.35 W"},{"t":7.55,"v":10.117,"sim":"0.35 W"},{"t":8.3,"v":10.124,"sim":"0.35 W"},{"t":9.05,"v":10.14,"sim":"0.35 W"},{"t":10,"v":10.15,"sim":"0.35 W"}
    ]
  },
  "columns": 2,
  "spacing": {"row": 296, "column": 305},
  "bounds": "flush",
  "resolve": {
    "scale": {"color": "independent", "strokeDash": "independent", "fill": "independent", "stroke": "independent", "shape": "independent"}
  },
  "concat": [
    {
      "width": 1084, "height": 886,
      "layer": [
        {"data": {"name": "a_sim"}, "mark": {"type": "line", "interpolate": "monotone", "strokeWidth": 3.5},
         "encoding": {
           "x": {"field": "t", "type": "quantitative", "scale": {"domain": [-1, 11], "nice": false, "zero": false},
                 "axis": {"orient": "bottom", "values": [1, 3, 5, 7, 9], "tickSize": -10, "labels": false, "title": "/s", "titleX": 529, "titleY": 138, "titleAngle": 0, "titleAlign": "left", "titleBaseline": "alphabetic"}},
           "y": {"field": "v", "type": "quantitative", "scale": {"domain": [0, 4.5], "nice": false},
                 "axis": {"orient": "left", "values": [0.5, 1.5, 2.5, 3.5], "tickSize": -10, "labels": false, "title": "T", "titleFontStyle": "italic", "titleX": -88, "titleY": 468, "titleAngle": 270, "titleAlign": "left", "titleBaseline": "alphabetic"}},
           "color": {"field": "sim", "type": "nominal", "scale": {"range": ["#000000", "#ff0000", "#0000ff"]},
                     "legend": {"legendX": 693, "legendY": 570, "title": "模拟", "symbolType": "M-4,0H4", "symbolSize": 570, "symbolStrokeWidth": 3.5, "symbolOffset": 32, "labelOffset": 83, "labelExpr": "'=' + datum.label"}},
           "strokeDash": {"field": "sim", "type": "nominal", "scale": {"range": [[1, 0], [25, 11], [5, 15]]}}
         }},
        {"data": {"name": "a_exp"}, "mark": {"type": "point", "filled": true, "strokeWidth": 3, "opacity": 1, "size": 400},
         "encoding": {
           "x": {"field": "t", "type": "quantitative", "scale": {"domain": [-1, 11], "nice": false, "zero": false},
                 "axis": {"orient": "bottom", "values": [0, 2, 4, 6, 8, 10], "tickSize": -19, "labelPadding": 80, "labelBaseline": "alphabetic", "labelAlign": "center", "title": "t", "titleFontStyle": "italic", "titleX": 514, "titleY": 138, "titleAngle": 0, "titleAlign": "left", "titleBaseline": "alphabetic"}},
           "y": {"field": "v", "type": "quantitative", "scale": {"domain": [0, 4.5], "nice": false},
                 "axis": {"orient": "left", "values": [0, 1, 2, 3, 4], "tickSize": -19, "labelPadding": 42, "labelAlign": "right", "labelBaseline": "middle", "title": "Δ", "titleX": -88, "titleY": 501.5, "titleAngle": 270, "titleAlign": "left", "titleBaseline": "alphabetic"}},
           "shape": {"field": "exp", "type": "nominal", "scale": {"range": ["M-0.84,-0.84H0.84V0.84H-0.84Z", "circle", "M0,-1.05L1.16,1.05H-1.16Z"]},
                     "legend": {"legendX": 564, "legendY": 570, "title": "实验", "symbolSize": 400, "symbolStrokeWidth": 3, "symbolOffset": 27, "labelOffset": 178, "labelFontStyle": "italic", "labelExpr": "'P'"}},
           "fill": {"field": "exp", "type": "nominal", "scale": {"range": ["#000000", "transparent", "#0000ff"]}},
           "stroke": {"field": "exp", "type": "nominal", "scale": {"range": ["#000000", "#ff0000", "#0000ff"]}}
         }},
        {"data": {"values": []}, "mark": "point",
         "encoding": {
           "x": {"field": "t", "type": "quantitative", "scale": {"domain": [-1, 11], "nice": false, "zero": false},
                 "axis": {"orient": "top", "values": [0, 2, 4, 6, 8, 10], "tickSize": -19, "labels": false, "title": "(a)", "titleFontSize": 53, "titleX": 372, "titleY": 1099, "titleAngle": 0, "titleAlign": "left", "titleBaseline": "alphabetic"}},
           "y": {"field": "v", "type": "quantitative", "scale": {"domain": [0, 4.5], "nice": false},
                 "axis": {"orient": "right", "values": [0, 1, 2, 3, 4], "tickSize": -19, "labels": false, "title": "/K", "titleX": -1172, "titleY": 437, "titleAngle": 270, "titleAlign": "left", "titleBaseline": "alphabetic"}}
         }},
        {"data": {"values": []}, "mark": "point",
         "encoding": {
           "x": {"field": "t", "type": "quantitative", "scale": {"domain": [-1, 11], "nice": false, "zero": false},
                 "axis": {"orient": "top", "values": [1, 3, 5, 7, 9], "tickSize": -10, "labels": false, "title": "T", "titleFontStyle": "italic", "titleX": 439, "titleY": 1099, "titleAngle": 0, "titleAlign": "left", "titleBaseline": "alphabetic"}},
           "y": {"field": "v", "type": "quantitative", "scale": {"domain": [0, 4.5], "nice": false},
                 "axis": {"orient": "right", "values": [0.5, 1.5, 2.5, 3.5], "tickSize": -10, "labels": false, "title": "amb", "titleFontSize": 36, "titleX": -612, "titleY": 1115, "titleAngle": 0, "titleAlign": "left", "titleBaseline": "alphabetic"}}
         }},
        {"data": {"values": []}, "mark": "point",
         "encoding": {
           "x": {"field": "t", "type": "quantitative", "scale": {"domain": [-1, 11], "nice": false, "zero": false},
                 "axis": {"orient": "bottom", "ticks": false, "labels": false, "title": "=300 K", "titleX": 534, "titleY": 213, "titleAngle": 0, "titleAlign": "left", "titleBaseline": "alphabetic"}}
         }}
      ],
      "resolve": {"axis": {"x": "independent", "y": "independent"}}
    },
    {
      "width": 1084, "height": 886,
      "layer": [
        {"data": {"name": "b_sim"}, "mark": {"type": "line", "interpolate": "monotone", "strokeWidth": 3.5},
         "encoding": {
           "x": {"field": "t", "type": "quantitative", "scale": {"domain": [-1, 11], "nice": false, "zero": false},
                 "axis": {"orient": "bottom", "values": [1, 3, 5, 7, 9], "tickSize": -10, "labels": false, "title": "/s", "titleX": 529, "titleY": 138, "titleAngle": 0, "titleAlign": "left", "titleBaseline": "alphabetic"}},
           "y": {"field": "v", "type": "quantitative", "scale": {"domain": [0, 4.5], "nice": false},
                 "axis": {"orient": "left", "values": [0.5, 1.5, 2.5, 3.5], "tickSize": -10, "labels": false, "title": "T", "titleFontStyle": "italic", "titleX": -88, "titleY": 468, "titleAngle": 270, "titleAlign": "left", "titleBaseline": "alphabetic"}},
           "color": {"field": "sim", "type": "nominal", "scale": {"range": ["#000000", "#ff0000", "#0000ff"]},
                     "legend": {"legendX": 693, "legendY": 570, "title": "模拟", "symbolType": "M-4,0H4", "symbolSize": 570, "symbolStrokeWidth": 3.5, "symbolOffset": 32, "labelOffset": 83, "labelExpr": "'=' + datum.label"}},
           "strokeDash": {"field": "sim", "type": "nominal", "scale": {"range": [[1, 0], [25, 11], [5, 15]]}}
         }},
        {"data": {"name": "b_exp"}, "mark": {"type": "point", "filled": true, "strokeWidth": 3, "opacity": 1, "size": 400},
         "encoding": {
           "x": {"field": "t", "type": "quantitative", "scale": {"domain": [-1, 11], "nice": false, "zero": false},
                 "axis": {"orient": "bottom", "values": [0, 2, 4, 6, 8, 10], "tickSize": -19, "labelPadding": 80, "labelBaseline": "alphabetic", "labelAlign": "center", "title": "t", "titleFontStyle": "italic", "titleX": 514, "titleY": 138, "titleAngle": 0, "titleAlign": "left", "titleBaseline": "alphabetic"}},
           "y": {"field": "v", "type": "quantitative", "scale": {"domain": [0, 4.5], "nice": false},
                 "axis": {"orient": "left", "values": [0, 1, 2, 3, 4], "tickSize": -19, "labelPadding": 42, "labelAlign": "right", "labelBaseline": "middle", "title": "Δ", "titleX": -88, "titleY": 501.5, "titleAngle": 270, "titleAlign": "left", "titleBaseline": "alphabetic"}},
           "shape": {"field": "exp", "type": "nominal", "scale": {"range": ["M-0.84,-0.84H0.84V0.84H-0.84Z", "circle", "M0,-1.05L1.16,1.05H-1.16Z"]},
                     "legend": {"legendX": 564, "legendY": 570, "title": "实验", "symbolSize": 400, "symbolStrokeWidth": 3, "symbolOffset": 27, "labelOffset": 178, "labelFontStyle": "italic", "labelExpr": "'P'"}},
           "fill": {"field": "exp", "type": "nominal", "scale": {"range": ["#000000", "transparent", "#0000ff"]}},
           "stroke": {"field": "exp", "type": "nominal", "scale": {"range": ["#000000", "#ff0000", "#0000ff"]}}
         }},
        {"data": {"values": []}, "mark": "point",
         "encoding": {
           "x": {"field": "t", "type": "quantitative", "scale": {"domain": [-1, 11], "nice": false, "zero": false},
                 "axis": {"orient": "top", "values": [0, 2, 4, 6, 8, 10], "tickSize": -19, "labels": false, "title": "(b)", "titleFontSize": 53, "titleX": 369, "titleY": 1099, "titleAngle": 0, "titleAlign": "left", "titleBaseline": "alphabetic"}},
           "y": {"field": "v", "type": "quantitative", "scale": {"domain": [0, 4.5], "nice": false},
                 "axis": {"orient": "right", "values": [0, 1, 2, 3, 4], "tickSize": -19, "labels": false, "title": "/K", "titleX": -1172, "titleY": 437, "titleAngle": 270, "titleAlign": "left", "titleBaseline": "alphabetic"}}
         }},
        {"data": {"values": []}, "mark": "point",
         "encoding": {
           "x": {"field": "t", "type": "quantitative", "scale": {"domain": [-1, 11], "nice": false, "zero": false},
                 "axis": {"orient": "top", "values": [1, 3, 5, 7, 9], "tickSize": -10, "labels": false, "title": "T", "titleFontStyle": "italic", "titleX": 439, "titleY": 1099, "titleAngle": 0, "titleAlign": "left", "titleBaseline": "alphabetic"}},
           "y": {"field": "v", "type": "quantitative", "scale": {"domain": [0, 4.5], "nice": false},
                 "axis": {"orient": "right", "values": [0.5, 1.5, 2.5, 3.5], "tickSize": -10, "labels": false, "title": "amb", "titleFontSize": 36, "titleX": -612, "titleY": 1115, "titleAngle": 0, "titleAlign": "left", "titleBaseline": "alphabetic"}}
         }},
        {"data": {"values": []}, "mark": "point",
         "encoding": {
           "x": {"field": "t", "type": "quantitative", "scale": {"domain": [-1, 11], "nice": false, "zero": false},
                 "axis": {"orient": "bottom", "ticks": false, "labels": false, "title": "=373 K", "titleX": 534, "titleY": 213, "titleAngle": 0, "titleAlign": "left", "titleBaseline": "alphabetic"}}
         }}
      ],
      "resolve": {"axis": {"x": "independent", "y": "independent"}}
    },
    {
      "width": 1084, "height": 886,
      "layer": [
        {"data": {"name": "c_sim"}, "mark": {"type": "line", "interpolate": "monotone", "strokeWidth": 3.5},
         "encoding": {
           "x": {"field": "t", "type": "quantitative", "scale": {"domain": [-1, 11], "nice": false, "zero": false},
                 "axis": {"orient": "bottom", "values": [1, 3, 5, 7, 9], "tickSize": -10, "labels": false, "title": "/s", "titleX": 529, "titleY": 138, "titleAngle": 0, "titleAlign": "left", "titleBaseline": "alphabetic"}},
           "y": {"field": "v", "type": "quantitative", "scale": {"domain": [0, 4.5], "nice": false},
                 "axis": {"orient": "left", "values": [0.5, 1.5, 2.5, 3.5], "tickSize": -10, "labels": false, "title": "T", "titleFontStyle": "italic", "titleX": -88, "titleY": 468, "titleAngle": 270, "titleAlign": "left", "titleBaseline": "alphabetic"}},
           "color": {"field": "sim", "type": "nominal", "scale": {"range": ["#000000", "#ff0000", "#0000ff"]},
                     "legend": {"legendX": 693, "legendY": 570, "title": "模拟", "symbolType": "M-4,0H4", "symbolSize": 570, "symbolStrokeWidth": 3.5, "symbolOffset": 32, "labelOffset": 83, "labelExpr": "'=' + datum.label"}},
           "strokeDash": {"field": "sim", "type": "nominal", "scale": {"range": [[1, 0], [25, 11], [5, 15]]}}
         }},
        {"data": {"name": "c_exp"}, "mark": {"type": "point", "filled": true, "strokeWidth": 3, "opacity": 1, "size": 400},
         "encoding": {
           "x": {"field": "t", "type": "quantitative", "scale": {"domain": [-1, 11], "nice": false, "zero": false},
                 "axis": {"orient": "bottom", "values": [0, 2, 4, 6, 8, 10], "tickSize": -19, "labelPadding": 80, "labelBaseline": "alphabetic", "labelAlign": "center", "title": "t", "titleFontStyle": "italic", "titleX": 514, "titleY": 138, "titleAngle": 0, "titleAlign": "left", "titleBaseline": "alphabetic"}},
           "y": {"field": "v", "type": "quantitative", "scale": {"domain": [0, 4.5], "nice": false},
                 "axis": {"orient": "left", "values": [0, 1, 2, 3, 4], "tickSize": -19, "labelPadding": 42, "labelAlign": "right", "labelBaseline": "middle", "title": "Δ", "titleX": -88, "titleY": 501.5, "titleAngle": 270, "titleAlign": "left", "titleBaseline": "alphabetic"}},
           "shape": {"field": "exp", "type": "nominal", "scale": {"range": ["M-0.84,-0.84H0.84V0.84H-0.84Z", "circle", "M0,-1.05L1.16,1.05H-1.16Z"]},
                     "legend": {"legendX": 564, "legendY": 570, "title": "实验", "symbolSize": 400, "symbolStrokeWidth": 3, "symbolOffset": 27, "labelOffset": 178, "labelFontStyle": "italic", "labelExpr": "'P'"}},
           "fill": {"field": "exp", "type": "nominal", "scale": {"range": ["#000000", "transparent", "#0000ff"]}},
           "stroke": {"field": "exp", "type": "nominal", "scale": {"range": ["#000000", "#ff0000", "#0000ff"]}}
         }},
        {"data": {"values": []}, "mark": "point",
         "encoding": {
           "x": {"field": "t", "type": "quantitative", "scale": {"domain": [-1, 11], "nice": false, "zero": false},
                 "axis": {"orient": "top", "values": [0, 2, 4, 6, 8, 10], "tickSize": -19, "labels": false, "title": "(c)", "titleFontSize": 53, "titleX": 372, "titleY": 1099, "titleAngle": 0, "titleAlign": "left", "titleBaseline": "alphabetic"}},
           "y": {"field": "v", "type": "quantitative", "scale": {"domain": [0, 4.5], "nice": false},
                 "axis": {"orient": "right", "values": [0, 1, 2, 3, 4], "tickSize": -19, "labels": false, "title": "/K", "titleX": -1172, "titleY": 437, "titleAngle": 270, "titleAlign": "left", "titleBaseline": "alphabetic"}}
         }},
        {"data": {"values": []}, "mark": "point",
         "encoding": {
           "x": {"field": "t", "type": "quantitative", "scale": {"domain": [-1, 11], "nice": false, "zero": false},
                 "axis": {"orient": "top", "values": [1, 3, 5, 7, 9], "tickSize": -10, "labels": false, "title": "T", "titleFontStyle": "italic", "titleX": 439, "titleY": 1099, "titleAngle": 0, "titleAlign": "left", "titleBaseline": "alphabetic"}},
           "y": {"field": "v", "type": "quantitative", "scale": {"domain": [0, 4.5], "nice": false},
                 "axis": {"orient": "right", "values": [0.5, 1.5, 2.5, 3.5], "tickSize": -10, "labels": false, "title": "amb", "titleFontSize": 36, "titleX": -612, "titleY": 1115, "titleAngle": 0, "titleAlign": "left", "titleBaseline": "alphabetic"}}
         }},
        {"data": {"values": []}, "mark": "point",
         "encoding": {
           "x": {"field": "t", "type": "quantitative", "scale": {"domain": [-1, 11], "nice": false, "zero": false},
                 "axis": {"orient": "bottom", "ticks": false, "labels": false, "title": "=473 K", "titleX": 534, "titleY": 213, "titleAngle": 0, "titleAlign": "left", "titleBaseline": "alphabetic"}}
         }}
      ],
      "resolve": {"axis": {"x": "independent", "y": "independent"}}
    },
    {
      "width": 1084, "height": 886,
      "layer": [
        {"data": {"name": "d_sim"}, "mark": {"type": "line", "interpolate": "monotone", "strokeWidth": 3.5},
         "encoding": {
           "x": {"field": "t", "type": "quantitative", "scale": {"domain": [-1, 11], "nice": false, "zero": false},
                 "axis": {"orient": "bottom", "values": [1, 3, 5, 7, 9], "tickSize": -10, "labels": false, "title": "/s", "titleX": 529, "titleY": 138, "titleAngle": 0, "titleAlign": "left", "titleBaseline": "alphabetic"}},
           "y": {"field": "v", "type": "quantitative", "scale": {"domain": [0, 4.5], "nice": false},
                 "axis": {"orient": "left", "values": [0.5, 1.5, 2.5, 3.5], "tickSize": -10, "labels": false, "title": "T", "titleFontStyle": "italic", "titleX": -88, "titleY": 468, "titleAngle": 270, "titleAlign": "left", "titleBaseline": "alphabetic"}},
           "color": {"field": "sim", "type": "nominal", "scale": {"range": ["#000000", "#ff0000", "#0000ff"]},
                     "legend": {"legendX": 693, "legendY": 570, "title": "模拟", "symbolType": "M-4,0H4", "symbolSize": 570, "symbolStrokeWidth": 3.5, "symbolOffset": 32, "labelOffset": 83, "labelExpr": "'=' + datum.label"}},
           "strokeDash": {"field": "sim", "type": "nominal", "scale": {"range": [[1, 0], [25, 11], [5, 15]]}}
         }},
        {"data": {"name": "d_exp"}, "mark": {"type": "point", "filled": true, "strokeWidth": 3, "opacity": 1, "size": 400},
         "encoding": {
           "x": {"field": "t", "type": "quantitative", "scale": {"domain": [-1, 11], "nice": false, "zero": false},
                 "axis": {"orient": "bottom", "values": [0, 2, 4, 6, 8, 10], "tickSize": -19, "labelPadding": 80, "labelBaseline": "alphabetic", "labelAlign": "center", "title": "t", "titleFontStyle": "italic", "titleX": 514, "titleY": 138, "titleAngle": 0, "titleAlign": "left", "titleBaseline": "alphabetic"}},
           "y": {"field": "v", "type": "quantitative", "scale": {"domain": [0, 4.5], "nice": false},
                 "axis": {"orient": "left", "values": [0, 1, 2, 3, 4], "tickSize": -19, "labelPadding": 42, "labelAlign": "right", "labelBaseline": "middle", "title": "Δ", "titleX": -88, "titleY": 501.5, "titleAngle": 270, "titleAlign": "left", "titleBaseline": "alphabetic"}},
           "shape": {"field": "exp", "type": "nominal", "scale": {"range": ["M-0.84,-0.84H0.84V0.84H-0.84Z", "circle", "M0,-1.05L1.16,1.05H-1.16Z"]},
                     "legend": {"legendX": 564, "legendY": 570, "title": "实验", "symbolSize": 400, "symbolStrokeWidth": 3, "symbolOffset": 27, "labelOffset": 178, "labelFontStyle": "italic", "labelExpr": "'P'"}},
           "fill": {"field": "exp", "type": "nominal", "scale": {"range": ["#000000", "transparent", "#0000ff"]}},
           "stroke": {"field": "exp", "type": "nominal", "scale": {"range": ["#000000", "#ff0000", "#0000ff"]}}
         }},
        {"data": {"values": []}, "mark": "point",
         "encoding": {
           "x": {"field": "t", "type": "quantitative", "scale": {"domain": [-1, 11], "nice": false, "zero": false},
                 "axis": {"orient": "top", "values": [0, 2, 4, 6, 8, 10], "tickSize": -19, "labels": false, "title": "(d)", "titleFontSize": 53, "titleX": 369, "titleY": 1099, "titleAngle": 0, "titleAlign": "left", "titleBaseline": "alphabetic"}},
           "y": {"field": "v", "type": "quantitative", "scale": {"domain": [0, 4.5], "nice": false},
                 "axis": {"orient": "right", "values": [0, 1, 2, 3, 4], "tickSize": -19, "labels": false, "title": "/K", "titleX": -1172, "titleY": 437, "titleAngle": 270, "titleAlign": "left", "titleBaseline": "alphabetic"}}
         }},
        {"data": {"values": []}, "mark": "point",
         "encoding": {
           "x": {"field": "t", "type": "quantitative", "scale": {"domain": [-1, 11], "nice": false, "zero": false},
                 "axis": {"orient": "top", "values": [1, 3, 5, 7, 9], "tickSize": -10, "labels": false, "title": "T", "titleFontStyle": "italic", "titleX": 439, "titleY": 1099, "titleAngle": 0, "titleAlign": "left", "titleBaseline": "alphabetic"}},
           "y": {"field": "v", "type": "quantitative", "scale": {"domain": [0, 4.5], "nice": false},
                 "axis": {"orient": "right", "values": [0.5, 1.5, 2.5, 3.5], "tickSize": -10, "labels": false, "title": "amb", "titleFontSize": 36, "titleX": -612, "titleY": 1115, "titleAngle": 0, "titleAlign": "left", "titleBaseline": "alphabetic"}}
         }},
        {"data": {"values": []}, "mark": "point",
         "encoding": {
           "x": {"field": "t", "type": "quantitative", "scale": {"domain": [-1, 11], "nice": false, "zero": false},
                 "axis": {"orient": "bottom", "ticks": false, "labels": false, "title": "=573 K", "titleX": 534, "titleY": 213, "titleAngle": 0, "titleAlign": "left", "titleBaseline": "alphabetic"}}
         }}
      ],
      "resolve": {"axis": {"x": "independent", "y": "independent"}}
    },
    {
      "width": 1084, "height": 886,
      "layer": [
        {"data": {"name": "e_sim"}, "mark": {"type": "line", "interpolate": "monotone", "strokeWidth": 3.5},
         "encoding": {
           "x": {"field": "t", "type": "quantitative", "scale": {"domain": [-1, 11], "nice": false, "zero": false},
                 "axis": {"orient": "bottom", "values": [1, 3, 5, 7, 9], "tickSize": -10, "labels": false, "title": "/s", "titleX": 529, "titleY": 138, "titleAngle": 0, "titleAlign": "left", "titleBaseline": "alphabetic"}},
           "y": {"field": "v", "type": "quantitative", "scale": {"domain": [0, 9], "nice": false},
                 "axis": {"orient": "left", "values": [1, 3, 5, 7], "tickSize": -10, "labels": false, "title": "T", "titleFontStyle": "italic", "titleX": -88, "titleY": 468, "titleAngle": 270, "titleAlign": "left", "titleBaseline": "alphabetic"}},
           "color": {"field": "sim", "type": "nominal", "scale": {"range": ["#000000", "#ff0000", "#0000ff"]},
                     "legend": {"legendX": 693, "legendY": 570, "title": "模拟", "symbolType": "M-4,0H4", "symbolSize": 570, "symbolStrokeWidth": 3.5, "symbolOffset": 32, "labelOffset": 83, "labelExpr": "'=' + datum.label"}},
           "strokeDash": {"field": "sim", "type": "nominal", "scale": {"range": [[1, 0], [25, 11], [5, 15]]}}
         }},
        {"data": {"name": "e_exp"}, "mark": {"type": "point", "filled": true, "strokeWidth": 3, "opacity": 1, "size": 400},
         "encoding": {
           "x": {"field": "t", "type": "quantitative", "scale": {"domain": [-1, 11], "nice": false, "zero": false},
                 "axis": {"orient": "bottom", "values": [0, 2, 4, 6, 8, 10], "tickSize": -19, "labelPadding": 80, "labelBaseline": "alphabetic", "labelAlign": "center", "title": "t", "titleFontStyle": "italic", "titleX": 514, "titleY": 138, "titleAngle": 0, "titleAlign": "left", "titleBaseline": "alphabetic"}},
           "y": {"field": "v", "type": "quantitative", "scale": {"domain": [0, 9], "nice": false},
                 "axis": {"orient": "left", "values": [0, 2, 4, 6, 8], "tickSize": -19, "labelPadding": 42, "labelAlign": "right", "labelBaseline": "middle", "title": "Δ", "titleX": -88, "titleY": 501.5, "titleAngle": 270, "titleAlign": "left", "titleBaseline": "alphabetic"}},
           "shape": {"field": "exp", "type": "nominal", "scale": {"range": ["M-0.84,-0.84H0.84V0.84H-0.84Z", "circle", "M0,-1.05L1.16,1.05H-1.16Z"]},
                     "legend": {"legendX": 564, "legendY": 570, "title": "实验", "symbolSize": 400, "symbolStrokeWidth": 3, "symbolOffset": 27, "labelOffset": 178, "labelFontStyle": "italic", "labelExpr": "'P'"}},
           "fill": {"field": "exp", "type": "nominal", "scale": {"range": ["#000000", "transparent", "#0000ff"]}},
           "stroke": {"field": "exp", "type": "nominal", "scale": {"range": ["#000000", "#ff0000", "#0000ff"]}}
         }},
        {"data": {"values": []}, "mark": "point",
         "encoding": {
           "x": {"field": "t", "type": "quantitative", "scale": {"domain": [-1, 11], "nice": false, "zero": false},
                 "axis": {"orient": "top", "values": [0, 2, 4, 6, 8, 10], "tickSize": -19, "labels": false, "title": "(e)", "titleFontSize": 53, "titleX": 372, "titleY": 1099, "titleAngle": 0, "titleAlign": "left", "titleBaseline": "alphabetic"}},
           "y": {"field": "v", "type": "quantitative", "scale": {"domain": [0, 9], "nice": false},
                 "axis": {"orient": "right", "values": [0, 2, 4, 6, 8], "tickSize": -19, "labels": false, "title": "/K", "titleX": -1172, "titleY": 437, "titleAngle": 270, "titleAlign": "left", "titleBaseline": "alphabetic"}}
         }},
        {"data": {"values": []}, "mark": "point",
         "encoding": {
           "x": {"field": "t", "type": "quantitative", "scale": {"domain": [-1, 11], "nice": false, "zero": false},
                 "axis": {"orient": "top", "values": [1, 3, 5, 7, 9], "tickSize": -10, "labels": false, "title": "T", "titleFontStyle": "italic", "titleX": 439, "titleY": 1099, "titleAngle": 0, "titleAlign": "left", "titleBaseline": "alphabetic"}},
           "y": {"field": "v", "type": "quantitative", "scale": {"domain": [0, 9], "nice": false},
                 "axis": {"orient": "right", "values": [1, 3, 5, 7], "tickSize": -10, "labels": false, "title": "amb", "titleFontSize": 36, "titleX": -612, "titleY": 1115, "titleAngle": 0, "titleAlign": "left", "titleBaseline": "alphabetic"}}
         }},
        {"data": {"values": []}, "mark": "point",
         "encoding": {
           "x": {"field": "t", "type": "quantitative", "scale": {"domain": [-1, 11], "nice": false, "zero": false},
                 "axis": {"orient": "bottom", "ticks": false, "labels": false, "title": "=713 K", "titleX": 534, "titleY": 213, "titleAngle": 0, "titleAlign": "left", "titleBaseline": "alphabetic"}}
         }}
      ],
      "resolve": {"axis": {"x": "independent", "y": "independent"}}
    },
    {
      "width": 1084, "height": 886,
      "layer": [
        {"data": {"name": "f_sim"}, "mark": {"type": "line", "interpolate": "monotone", "strokeWidth": 3.5},
         "encoding": {
           "x": {"field": "t", "type": "quantitative", "scale": {"domain": [-1, 11], "nice": false, "zero": false},
                 "axis": {"orient": "bottom", "values": [1, 3, 5, 7, 9], "tickSize": -10, "labels": false, "title": "/s", "titleX": 529, "titleY": 138, "titleAngle": 0, "titleAlign": "left", "titleBaseline": "alphabetic"}},
           "y": {"field": "v", "type": "quantitative", "scale": {"domain": [0, 12], "nice": false},
                 "axis": {"orient": "left", "values": [1, 3, 5, 7, 9, 11], "tickSize": -10, "labels": false, "title": "T", "titleFontStyle": "italic", "titleX": -88, "titleY": 468, "titleAngle": 270, "titleAlign": "left", "titleBaseline": "alphabetic"}},
           "color": {"field": "sim", "type": "nominal", "scale": {"range": ["#000000", "#ff0000", "#0000ff"]},
                     "legend": {"legendX": 693, "legendY": 570, "title": "模拟", "symbolType": "M-4,0H4", "symbolSize": 570, "symbolStrokeWidth": 3.5, "symbolOffset": 32, "labelOffset": 83, "labelExpr": "'=' + datum.label"}},
           "strokeDash": {"field": "sim", "type": "nominal", "scale": {"range": [[1, 0], [25, 11], [5, 15]]}}
         }},
        {"data": {"name": "f_exp"}, "mark": {"type": "point", "filled": true, "strokeWidth": 3, "opacity": 1, "size": 400},
         "encoding": {
           "x": {"field": "t", "type": "quantitative", "scale": {"domain": [-1, 11], "nice": false, "zero": false},
                 "axis": {"orient": "bottom", "values": [0, 2, 4, 6, 8, 10], "tickSize": -19, "labelPadding": 80, "labelBaseline": "alphabetic", "labelAlign": "center", "title": "t", "titleFontStyle": "italic", "titleX": 514, "titleY": 138, "titleAngle": 0, "titleAlign": "left", "titleBaseline": "alphabetic"}},
           "y": {"field": "v", "type": "quantitative", "scale": {"domain": [0, 12], "nice": false},
                 "axis": {"orient": "left", "values": [0, 2, 4, 6, 8, 10, 12], "tickSize": -19, "labelPadding": 42, "labelAlign": "right", "labelBaseline": "middle", "title": "Δ", "titleX": -88, "titleY": 501.5, "titleAngle": 270, "titleAlign": "left", "titleBaseline": "alphabetic"}},
           "shape": {"field": "exp", "type": "nominal", "scale": {"range": ["M-0.84,-0.84H0.84V0.84H-0.84Z", "circle", "M0,-1.05L1.16,1.05H-1.16Z"]},
                     "legend": {"legendX": 564, "legendY": 570, "title": "实验", "symbolSize": 400, "symbolStrokeWidth": 3, "symbolOffset": 27, "labelOffset": 178, "labelFontStyle": "italic", "labelExpr": "'P'"}},
           "fill": {"field": "exp", "type": "nominal", "scale": {"range": ["#000000", "transparent", "#0000ff"]}},
           "stroke": {"field": "exp", "type": "nominal", "scale": {"range": ["#000000", "#ff0000", "#0000ff"]}}
         }},
        {"data": {"values": []}, "mark": "point",
         "encoding": {
           "x": {"field": "t", "type": "quantitative", "scale": {"domain": [-1, 11], "nice": false, "zero": false},
                 "axis": {"orient": "top", "values": [0, 2, 4, 6, 8, 10], "tickSize": -19, "labels": false, "title": "(f)", "titleFontSize": 53, "titleX": 375, "titleY": 1099, "titleAngle": 0, "titleAlign": "left", "titleBaseline": "alphabetic"}},
           "y": {"field": "v", "type": "quantitative", "scale": {"domain": [0, 12], "nice": false},
                 "axis": {"orient": "right", "values": [0, 2, 4, 6, 8, 10, 12], "tickSize": -19, "labels": false, "title": "/K", "titleX": -1172, "titleY": 437, "titleAngle": 270, "titleAlign": "left", "titleBaseline": "alphabetic"}}
         }},
        {"data": {"values": []}, "mark": "point",
         "encoding": {
           "x": {"field": "t", "type": "quantitative", "scale": {"domain": [-1, 11], "nice": false, "zero": false},
                 "axis": {"orient": "top", "values": [1, 3, 5, 7, 9], "tickSize": -10, "labels": false, "title": "T", "titleFontStyle": "italic", "titleX": 439, "titleY": 1099, "titleAngle": 0, "titleAlign": "left", "titleBaseline": "alphabetic"}},
           "y": {"field": "v", "type": "quantitative", "scale": {"domain": [0, 12], "nice": false},
                 "axis": {"orient": "right", "values": [1, 3, 5, 7, 9, 11], "tickSize": -10, "labels": false, "title": "amb", "titleFontSize": 36, "titleX": -612, "titleY": 1115, "titleAngle": 0, "titleAlign": "left", "titleBaseline": "alphabetic"}}
         }},
        {"data": {"values": []}, "mark": "point",
         "encoding": {
           "x": {"field": "t", "type": "quantitative", "scale": {"domain": [-1, 11], "nice": false, "zero": false},
                 "axis": {"orient": "bottom", "ticks": false, "labels": false, "title": "=773 K", "titleX": 534, "titleY": 213, "titleAngle": 0, "titleAlign": "left", "titleBaseline": "alphabetic"}}
         }}
      ],
      "resolve": {"axis": {"x": "independent", "y": "independent"}}
    }
  ]
}
